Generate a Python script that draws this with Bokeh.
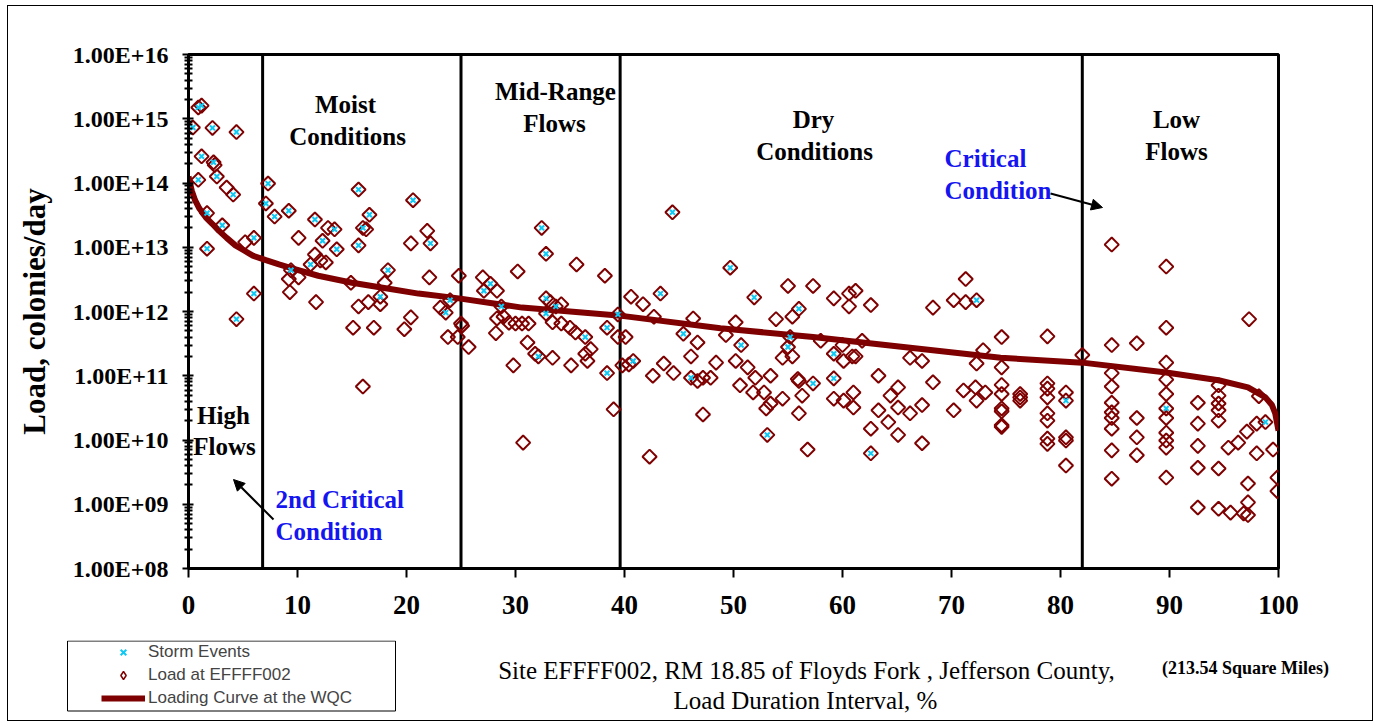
import math
from bokeh.plotting import figure
from bokeh.layouts import column
from bokeh.models import (FixedTicker, CustomJSTickFormatter, Span, Label, Arrow, NormalHead,
                          Legend, LegendItem, BoxAnnotation, Range1d)
from bokeh.embed import file_html
from bokeh.resources import INLINE

# ---------------- data ----------------
high_x = [0.9, 1.2, 0.4, 2.2, 4.4, 1.2, 2.3, 2.4, 2.6, 0.9, 3.5, 4.1, 1.7, 3.1, 5.2, 6.0, 1.7, 6.0, 4.4]
high_y = [1.5e15, 1.6e15, 7.3e14, 7.2e14, 6.2e14, 2.6e14, 2.1e14, 1.9e14, 1.26e14, 1.12e14, 8.5e13, 6.6e13,
          3.4e13, 2.2e13, 1.2e13, 1.4e13, 9.5e12, 1.9e12, 7.6e11]

moist_x = [7.3, 7.1, 7.9, 9.2, 10.1, 11.6, 12.3, 12.8, 13.4, 13.6, 15.6, 16.6, 16.0, 16.3, 15.6, 11.6, 12.1, 12.6,
           11.2, 9.4, 9.2, 10.1, 9.3, 11.7, 14.9, 15.6, 16.5, 17.6, 17.6, 18.0, 18.3, 15.1, 17.0, 16.0, 20.4, 20.6,
           21.9, 22.2, 22.1, 20.4, 19.8, 23.1, 23.6, 24.0, 23.8, 24.7, 24.8, 25.0]
moist_y = [9.8e13, 4.8e13, 3.0e13, 3.7e13, 1.4e13, 2.7e13, 1.26e13, 2.0e13, 1.9e13, 9.3e12, 7.9e13, 3.2e13, 2.0e13,
           1.9e13, 1.07e13, 7.7e12, 6.2e12, 5.8e12, 5.4e12, 4.4e12, 3.2e12, 3.4e12, 2.0e12, 1.4e12, 2.8e12, 1.2e12,
           1.4e12, 1.3e12, 1.7e12, 2.8e12, 4.4e12, 5.6e11, 5.6e11, 6.8e10, 1.15e13, 5.4e13, 1.8e13, 1.15e13, 3.4e12,
           8.1e11, 5.3e11, 1.15e12, 9.6e11, 1.5e12, 4.0e11, 4.0e11, 3.6e12, 6.5e11]

mid_x = [27.0, 27.7, 27.1, 28.3, 30.2, 32.4, 32.8, 35.6, 38.2, 28.7, 28.3, 28.9, 29.4, 30.0, 30.6, 31.2, 28.2, 32.8,
         33.2, 33.7, 34.2, 32.8, 33.4, 34.2, 35.0, 35.5, 36.4, 36.9, 36.4, 36.6, 31.1, 31.8, 32.1, 33.4, 35.1, 29.8,
         25.7, 25.1, 30.7, 39.0, 38.4, 38.4, 39.4, 39.4, 40.1, 39.8, 40.4, 40.8]
mid_y = [3.4e12, 2.7e12, 2.1e12, 2.1e12, 4.2e12, 2.0e13, 7.9e12, 5.4e12, 3.6e12, 1.2e12, 7.8e11, 8.3e11, 6.7e11,
         6.5e11, 6.5e11, 6.5e11, 4.6e11, 1.6e12, 1.4e12, 1.2e12, 1.3e12, 9.3e11, 6.8e11, 6.5e11, 5.6e11, 4.7e11,
         4.0e11, 2.6e11, 2.2e11, 1.7e11, 3.3e11, 2.2e11, 2.0e11, 1.9e11, 1.45e11, 1.45e11, 2.8e11, 6.0e11, 9.1e9,
         3.0e10, 5.6e11, 1.1e11, 9.0e11, 4.0e11, 4.0e11, 1.45e11, 1.5e11, 1.7e11]

dry_x = [40.6, 41.7, 42.7, 43.3, 44.4, 49.7, 46.3, 45.4, 46.7, 46.1, 42.6, 43.6, 44.5, 46.1, 46.7, 47.2, 47.9, 48.4,
         47.2, 42.3,
         51.9, 55.0, 57.3, 56.0, 55.4, 53.9, 50.2, 49.3, 50.7, 55.2, 55.0, 54.5, 55.4, 59.2, 60.6, 61.2, 60.6, 62.6,
         58.0, 59.2, 60.0, 60.1, 60.9, 61.2, 61.8,
         50.2, 51.3, 52.0, 53.4, 50.6, 51.8, 52.8, 56.0, 55.9, 57.3, 56.3, 54.5, 53.4, 53.0, 56.0, 53.1, 56.8, 59.2,
         59.2, 60.1, 61.0, 61.0,
         63.3, 64.4, 65.1, 63.3, 65.1, 64.2, 62.6, 65.1, 66.2, 67.3, 67.3, 62.6, 66.2, 67.3, 68.3, 68.3, 70.2, 70.2,
         71.3, 71.3, 72.3, 72.9, 72.3, 71.1, 72.2, 73.1, 72.3,
         74.6, 78.8, 82.0, 74.6, 74.6, 74.6, 74.6, 74.6, 74.6, 74.6, 76.3, 76.3, 76.3, 78.8, 78.8, 78.8, 78.8, 78.8,
         78.8, 78.8, 80.5, 80.5, 80.5, 80.5, 80.5]
dry_y = [1.7e12, 1.3e12, 8.3e11, 1.9e12, 3.5e13, 4.8e12, 7.8e11, 4.5e11, 3.3e11, 2.0e11, 1.0e11, 1.55e11, 1.1e11,
         9.3e10, 8.3e10, 9.3e10, 9.3e10, 1.6e11, 2.5e10, 5.5e9,
         1.66e12, 2.5e12, 2.5e12, 1.1e12, 8.3e11, 7.6e11, 6.8e11, 4.3e11, 3.0e11, 4.0e11, 2.8e11, 1.9e11, 2.0e11,
         1.6e12, 1.9e12, 2.1e12, 1.2e12, 1.26e12, 3.5e11, 2.2e11, 3.0e11, 1.7e11, 2.0e11, 2.0e11, 3.5e11,
         1.7e11, 1.35e11, 9.3e10, 1.0e11, 7.1e10, 5.5e10, 5.5e10, 8.3e10, 8.9e10, 7.6e10, 4.9e10, 4.4e10, 3.7e10,
         3.1e10, 2.6e10, 1.2e10, 7.1e9, 9.1e10, 4.4e10, 4.1e10, 5.5e10, 3.2e10,
         1.0e11, 4.9e10, 6.6e10, 2.9e10, 3.2e10, 1.9e10, 1.5e10, 1.2e10, 2.6e10, 3.5e10, 8.9e9, 6.2e9, 1.9e11,
         1.7e11, 1.15e12, 7.9e10, 2.9e10, 1.5e12, 3.2e12, 1.4e12, 1.5e12, 2.5e11, 1.55e11, 5.9e10, 6.6e10, 5.5e10,
         4.1e10,
         4.0e11, 4.1e11, 2.1e11, 1.35e11, 7.2e10, 5.2e10, 3.1e10, 1.7e10, 2.8e10, 1.6e10, 5.2e10, 4.1e10, 4.6e10,
         7.6e10, 4.6e10, 2.6e10, 2.0e10, 1.05e10, 8.7e9, 6.3e10, 5.5e10, 4.1e10, 1.1e10, 9.8e9, 4.0e9]

low_x = [84.7, 84.7, 84.7, 84.7, 84.7, 84.7, 84.7, 84.7, 84.7, 84.7,
         87.0, 87.0, 87.0, 87.0,
         89.7, 89.7, 89.7, 89.7, 89.7, 89.7, 89.7, 89.7, 89.7, 89.7, 89.7,
         92.6, 92.6, 92.6, 92.6, 92.6,
         94.5, 94.5, 94.5, 94.5, 94.5, 94.5, 94.5,
         95.4, 96.3, 97.1, 98.0, 98.8, 98.2, 97.3, 98.0, 99.5, 97.2, 97.2, 95.6, 96.8, 97.2, 99.9, 99.9]
low_y = [1.1e13, 3.0e11, 1.1e11, 6.8e10, 3.8e10, 2.7e10, 2.2e10, 1.5e10, 6.9e9, 2.5e9,
         3.2e11, 2.2e10, 1.1e10, 5.8e9,
         5.0e12, 5.6e11, 1.6e11, 8.7e10, 5.2e10, 3.1e10, 2.2e10, 1.3e10, 9.8e9, 7.6e9, 2.6e9,
         3.8e10, 1.8e10, 8.1e9, 3.7e9, 8.9e8,
         7.1e10, 4.9e10, 3.7e10, 2.9e10, 2.0e10, 3.6e9, 8.5e8,
         7.6e9, 9.1e9, 1.35e10, 1.8e10, 1.9e10, 4.8e10, 7.6e11, 6.2e9, 7.1e9, 2.1e9, 1.07e9, 7.4e8, 7.2e8, 6.8e8,
         2.6e9, 1.6e9]

storm_x = [0.9, 1.2, 0.4, 2.2, 4.4, 1.2, 2.3, 2.6, 0.9, 4.1, 1.7, 3.1, 6.0, 1.7, 6.0, 4.4,
           7.3, 7.1, 7.9, 9.2, 11.6, 12.3, 13.4, 13.6, 15.6, 16.6, 16.0, 15.6, 11.2, 9.4, 17.6, 18.3, 20.6, 22.2,
           23.6, 24.0,
           27.7, 27.1, 32.4, 32.8, 28.7, 32.8, 33.7, 32.8, 36.4, 32.1, 38.4, 38.4, 39.4, 40.8,
           43.3, 44.4, 49.7, 45.4, 46.1, 51.9, 56.0, 50.7, 55.2, 55.0, 59.2, 57.3, 53.1, 59.2, 62.6, 72.3, 80.5,
           89.7, 98.8]
storm_y = [1.5e15, 1.6e15, 7.3e14, 7.2e14, 6.2e14, 2.6e14, 2.1e14, 1.26e14, 1.12e14, 6.6e13, 3.4e13, 2.2e13,
           1.4e13, 9.5e12, 1.9e12, 7.6e11,
           9.8e13, 4.8e13, 3.0e13, 3.7e13, 2.7e13, 1.26e13, 1.9e13, 9.3e12, 7.9e13, 3.2e13, 2.0e13, 1.07e13,
           5.4e12, 4.4e12, 1.7e12, 4.4e12, 5.4e13, 1.15e13, 9.6e11, 1.5e12,
           2.7e12, 2.1e12, 2.0e13, 7.9e12, 1.2e12, 1.6e12, 1.2e12, 9.3e11, 4.0e11, 2.0e11, 5.6e11, 1.1e11, 9.0e11,
           1.7e11,
           1.9e12, 3.5e13, 4.8e12, 4.5e11, 9.3e10, 1.66e12, 1.1e12, 3.0e11, 4.0e11, 2.8e11, 2.2e11, 7.6e10, 1.2e10,
           9.1e10, 6.2e9, 1.5e12, 4.1e10,
           3.1e10, 1.9e10]

curve_x = [0, 0.3, 0.6, 1.0, 1.6, 2.2, 2.8, 3.5, 4.3, 5.1, 5.9, 7.1, 8.3, 9.5, 11.9, 15.0, 18.1, 21.1, 24.8,
           30.6, 39.4, 48.8, 57.3, 66.0, 74.5, 82.0, 89.7, 94.5, 97.2, 98.8, 99.4, 99.7, 100]
curve_y = [1.26e14, 7.6e13, 5.4e13, 4.0e13, 2.9e13, 2.3e13, 1.8e13, 1.4e13, 1.07e13, 8.9e12, 7.4e12, 6.3e12,
           5.4e12, 4.7e12, 3.6e12, 2.8e12, 2.3e12, 1.9e12, 1.6e12, 1.15e12, 8.7e11, 5.5e11, 4.0e11, 2.75e11,
           1.9e11, 1.6e11, 1.12e11, 8.5e10, 6.6e10, 4.6e10, 3.5e10, 2.6e10, 1.4e10]

zone_bounds = [6.8, 25.0, 39.6, 82.0]
x_ticks = [0, 10, 20, 30, 40, 50, 60, 70, 80, 90, 100]
y_ticks = [1e8, 1e9, 1e10, 1e11, 1e12, 1e13, 1e14, 1e15, 1e16]

load_x = high_x + moist_x + mid_x + dry_x + low_x
load_y = high_y + moist_y + mid_y + dry_y + low_y

# ---------------- styling ----------------
DARK = "#7f0000"
CYAN = "#10c8f4"
SERIF = "Liberation Serif"
BLUE = "#1515f0"
W = 1364

# ---------------- main figure ----------------
p = figure(width=W, height=634, x_range=Range1d(0, 100), y_range=Range1d(1e8, 1e16),
           y_axis_type="log", output_backend="svg", toolbar_location=None,
           min_border_left=180, min_border_right=94, min_border_top=48, min_border_bottom=72)
p.frame_align = False
p.grid.visible = False
p.outline_line_color = "black"
p.outline_line_width = 3
p.background_fill_color = "white"
p.border_fill_color = "white"

p.xaxis.ticker = FixedTicker(ticks=x_ticks)
p.xaxis.axis_line_width = 3
p.xaxis.major_tick_in = 0
p.xaxis.major_tick_out = 9
p.xaxis.major_tick_line_width = 2
p.xaxis.minor_tick_in = 0
p.xaxis.minor_tick_out = 0
p.xaxis.major_label_text_font = SERIF
p.xaxis.major_label_text_font_style = "bold"
p.xaxis.major_label_text_font_size = "27px"
p.xaxis.major_label_text_color = "black"
p.xaxis.major_label_standoff = 18

minor = [m * t for t in y_ticks[:-1] for m in range(2, 10)]
p.yaxis.ticker = FixedTicker(ticks=y_ticks, minor_ticks=minor)
p.yaxis.formatter = CustomJSTickFormatter(code="""
const e = Math.round(Math.log10(tick));
return '1.00E+' + (e < 10 ? '0' : '') + e;
""")
p.yaxis.axis_line_width = 3
p.yaxis.major_tick_in = 5
p.yaxis.major_tick_out = 6
p.yaxis.minor_tick_in = 4
p.yaxis.minor_tick_out = 4
p.yaxis.major_tick_line_width = 2
p.yaxis.minor_tick_line_width = 2
p.yaxis.major_label_text_font = SERIF
p.yaxis.major_label_text_font_style = "bold"
p.yaxis.major_label_text_font_size = "24px"
p.yaxis.major_label_text_color = "black"
p.yaxis.major_label_standoff = 14
p.yaxis.axis_label = "Load, colonies/day"
p.yaxis.axis_label_text_font = SERIF
p.yaxis.axis_label_text_font_style = "bold"
p.yaxis.axis_label_text_font_size = "31px"
p.yaxis.axis_label_text_color = "black"
p.yaxis.axis_label_standoff = 18

for zb in zone_bounds:
    p.add_layout(Span(location=zb, dimension="height", line_color="black", line_width=3, level="underlay"))

curve = p.line(curve_x, curve_y, line_color=DARK, line_width=6)
load = p.scatter(load_x, load_y, marker="square", angle=math.pi / 4, size=10,
                 fill_alpha=0, line_color=DARK, line_width=2)
storm = p.scatter(storm_x, storm_y, marker="x", size=7, line_color=CYAN, line_width=2)


def lab(fig, x, y, text, size="25px", color="black", align="center", bold=True, font=SERIF, units="screen"):
    fig.add_layout(Label(x=x, y=y, x_units=units, y_units=units, text=text, text_align=align,
                         text_baseline="middle", text_font=font, text_font_size=size,
                         text_font_style="bold" if bold else "normal", text_color=color))


lab(p, 157, 464, "Moist")
lab(p, 159, 432, "Conditions")
lab(p, 367, 477, "Mid-Range")
lab(p, 366, 445, "Flows")
lab(p, 625, 449, "Dry")
lab(p, 626, 417, "Conditions")
lab(p, 988, 449, "Low")
lab(p, 988, 417, "Flows")
lab(p, 35, 153, "High")
lab(p, 36, 122, "Flows")
lab(p, 756, 410, "Critical", color=BLUE, align="left")
lab(p, 756, 378, "Condition", color=BLUE, align="left")
lab(p, 87, 69, "2nd Critical", color=BLUE, align="left")
lab(p, 87, 37, "Condition", color=BLUE, align="left")

p.add_layout(Arrow(end=NormalHead(size=11, fill_color="black", line_color="black"),
                   x_start=862, y_start=375, x_end=914, y_end=361,
                   start_units="screen", end_units="screen", line_width=2, line_color="black"))
p.add_layout(Arrow(end=NormalHead(size=11, fill_color="black", line_color="black"),
                   x_start=85, y_start=49, x_end=45, y_end=89,
                   start_units="screen", end_units="screen", line_width=2, line_color="black"))

# ---------------- bottom strip: legend and caption ----------------
q = figure(width=W, height=80, x_range=Range1d(0, W), y_range=Range1d(0, 80),
           output_backend="svg", toolbar_location=None, min_border=0,
           x_axis_location=None, y_axis_location=None)
q.frame_align = False
q.grid.visible = False
q.outline_line_color = None
q.background_fill_color = "white"
q.border_fill_color = "white"

# legend proxies (one point each, kept outside the visible strip)
proxy_x = [-100]
proxy_y = [-100]
q_storm = q.scatter(proxy_x, proxy_y, marker="x", size=7, line_color=CYAN, line_width=2)
q_load = q.scatter(proxy_x, proxy_y, marker="diamond", size=11, fill_alpha=0,
                   line_color=DARK, line_width=1.5)
q_curve = q.line(proxy_x + [-90], proxy_y + [-90], line_color=DARK, line_width=6)
legend = Legend(items=[LegendItem(label="Storm Events", renderers=[q_storm]),
                       LegendItem(label="Load at EFFFF002", renderers=[q_load]),
                       LegendItem(label="Loading Curve at the WQC", renderers=[q_curve])],
                location=(91, 10), padding=2, spacing=3, glyph_width=44, glyph_height=20,
                label_height=20, label_standoff=3, label_text_font="Liberation Sans",
                label_text_font_size="17px", background_fill_alpha=0, border_line_alpha=0)
q.add_layout(legend)
q.add_layout(BoxAnnotation(left=59, right=387, bottom=9.5, top=79.5,
                           left_units="screen", right_units="screen", bottom_units="screen", top_units="screen",
                           fill_alpha=0, line_color="black", line_width=1, line_alpha=1))
lab(q, 798, 50, "Site EFFFF002, RM 18.85 of Floyds Fork , Jefferson County,", size="25px", bold=False)
lab(q, 797, 20, "Load Duration Interval, %", size="25px", bold=False)
lab(q, 1237, 53, "(213.54 Square Miles)", size="18px")

layout = column(p, q, spacing=0,
                styles={"border": "1px solid black", "margin-left": "7px", "margin-top": "5px"})

open("out.html", "w").write(file_html(layout, INLINE))
